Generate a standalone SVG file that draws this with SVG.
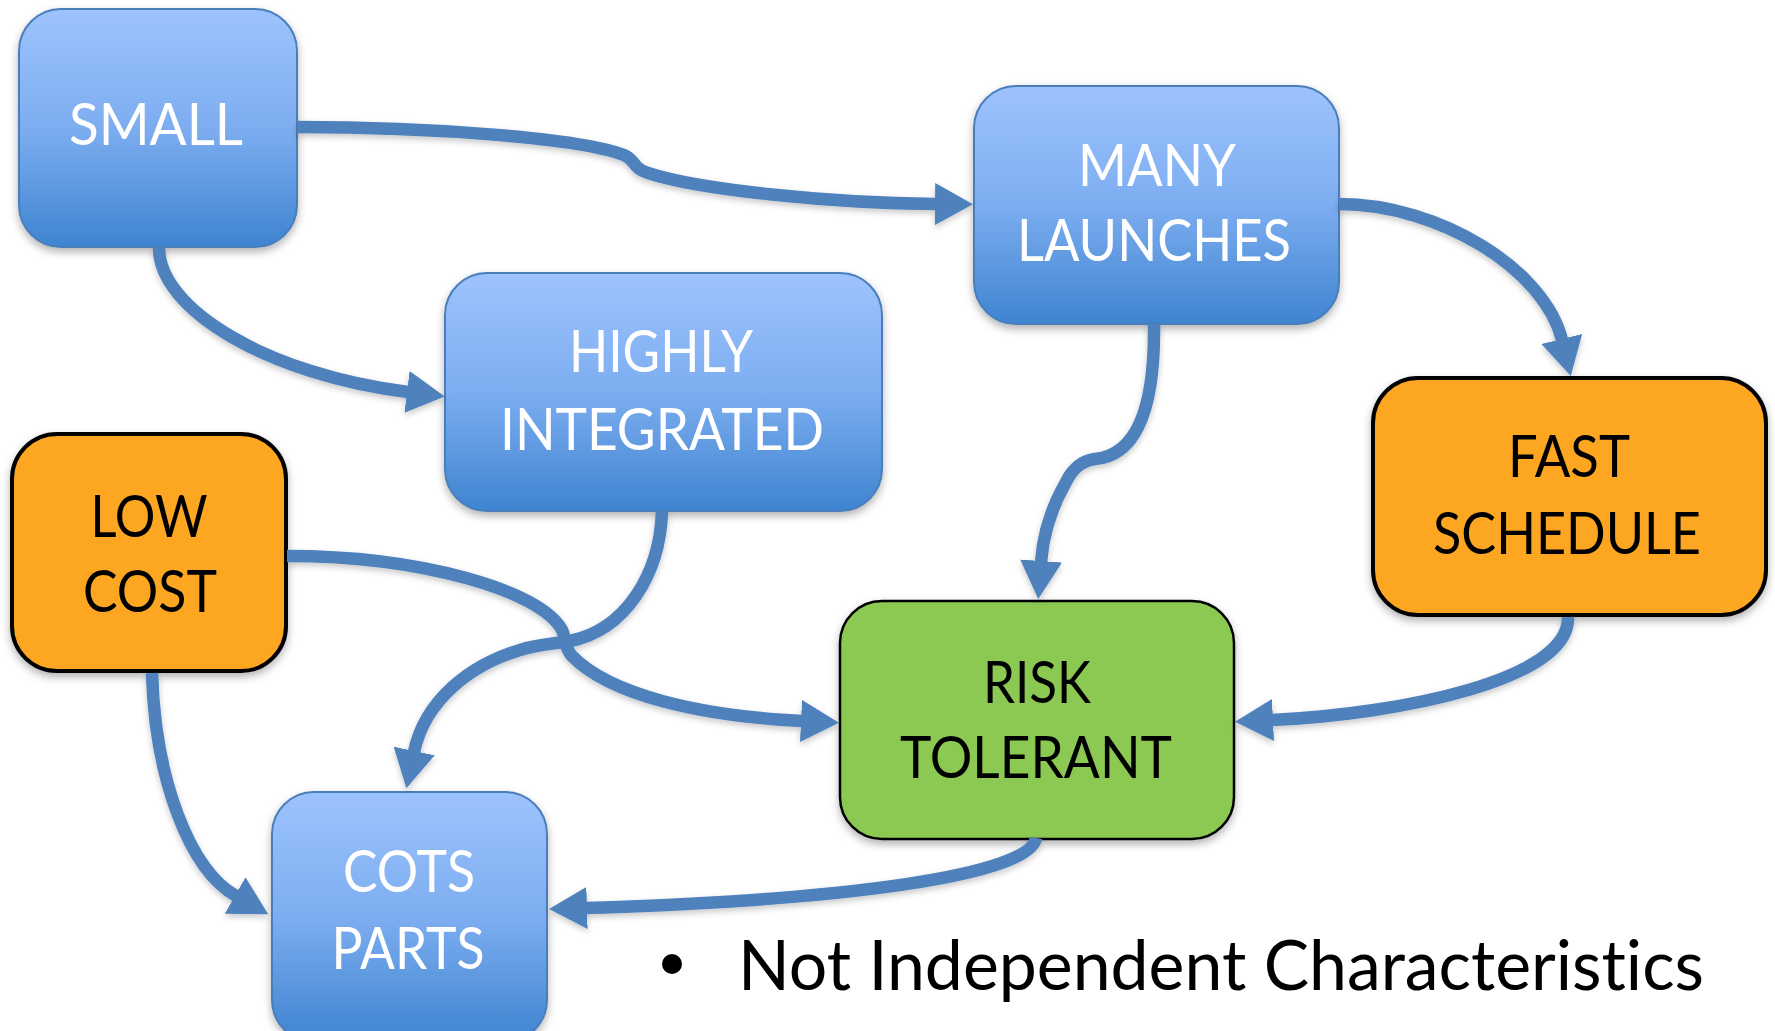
<svg xmlns="http://www.w3.org/2000/svg" width="1775" height="1031" viewBox="0 0 1775 1031">
<defs>
<linearGradient id="blueGrad" x1="0" y1="0" x2="0" y2="1">
<stop offset="0" stop-color="#9DC3FE"/>
<stop offset="0.5" stop-color="#7DADF0"/>
<stop offset="1" stop-color="#3E84D0"/>
</linearGradient>
<filter id="shadow" x="-10%" y="-10%" width="120%" height="130%">
<feDropShadow dx="0" dy="4" stdDeviation="4" flood-color="#000" flood-opacity="0.3"/>
</filter>
<filter id="lshadow" x="-10%" y="-10%" width="120%" height="130%">
<feDropShadow dx="0" dy="3" stdDeviation="3" flood-color="#000" flood-opacity="0.22"/>
</filter>
<marker id="arrow" markerUnits="userSpaceOnUse" markerWidth="38" markerHeight="42" viewBox="0 0 38 42" refX="1" refY="21" orient="auto">
<path d="M0,0 L38,21 L0,42 z" fill="#4F81BD"/>
</marker>
</defs>
<style>
.blue rect{fill:url(#blueGrad);stroke:#4A7EBB;stroke-width:2}
.orange rect{fill:#FDA623;stroke:#000;stroke-width:4}
.green rect{fill:#8BC952;stroke:#000;stroke-width:2.5}
.node{filter:url(#shadow)}
.lbl{font-family:Lato,Carlito,"Liberation Sans",sans-serif;font-size:58px;text-anchor:middle;font-variant-ligatures:none;font-feature-settings:"liga" 0,"clig" 0,"dlig" 0}
.blue text{fill:#fff}
.orange text,.green text{fill:#000}
.conn path{fill:none;stroke:#4F81BD;stroke-width:12.5;marker-end:url(#arrow)}
.note{font-family:Lato,Carlito,"Liberation Sans",sans-serif;font-size:70px;fill:#000;font-variant-ligatures:none;font-feature-settings:"liga" 0,"clig" 0,"dlig" 0}
</style>

<g id="node-small" class="node blue">
<rect x="19" y="9" width="278" height="238" rx="42" ry="42"/>
<text class="lbl" x="156" y="145" textLength="174" lengthAdjust="spacingAndGlyphs">SMALL</text>
</g>
<g id="node-many-launches" class="node blue">
<rect x="974" y="86" width="365" height="238" rx="42" ry="42"/>
<text class="lbl" x="1157" y="186" textLength="158" lengthAdjust="spacingAndGlyphs">MANY</text>
<text class="lbl" x="1154" y="261" textLength="274" lengthAdjust="spacingAndGlyphs">LAUNCHES</text>
</g>
<g id="node-highly-integrated" class="node blue">
<rect x="445" y="273" width="437" height="238" rx="42" ry="42"/>
<text class="lbl" x="661" y="372" textLength="184" lengthAdjust="spacingAndGlyphs">HIGHLY</text>
<text class="lbl" x="662" y="450" textLength="324" lengthAdjust="spacingAndGlyphs">INTEGRATED</text>
</g>
<g id="node-low-cost" class="node orange">
<rect x="12" y="434" width="274" height="237" rx="45" ry="45"/>
<text class="lbl" x="149" y="537" textLength="117" lengthAdjust="spacingAndGlyphs">LOW</text>
<text class="lbl" x="150" y="612" textLength="134" lengthAdjust="spacingAndGlyphs">COST</text>
</g>
<g id="node-fast-schedule" class="node orange">
<rect x="1373" y="378" width="393" height="237" rx="45" ry="45"/>
<text class="lbl" x="1569" y="477" textLength="122" lengthAdjust="spacingAndGlyphs">FAST</text>
<text class="lbl" x="1567" y="554" textLength="268" lengthAdjust="spacingAndGlyphs">SCHEDULE</text>
</g>
<g id="node-risk-tolerant" class="node green">
<rect x="840" y="601" width="394" height="238" rx="42" ry="42"/>
<text class="lbl" x="1037" y="703" textLength="108" lengthAdjust="spacingAndGlyphs">RISK</text>
<text class="lbl" x="1036" y="778" textLength="272" lengthAdjust="spacingAndGlyphs">TOLERANT</text>
</g>
<g id="node-cots-parts" class="node blue">
<rect x="272" y="792" width="275" height="250" rx="42" ry="42"/>
<text class="lbl" x="409" y="892" textLength="132" lengthAdjust="spacingAndGlyphs">COTS</text>
<text class="lbl" x="408" y="969" textLength="153" lengthAdjust="spacingAndGlyphs">PARTS</text>
</g>

<g id="connectors" class="conn" filter="url(#lshadow)">
<path id="e-small-many" d="M297,127 C430,127 580,138 624,155 C636,160 632,168 648,173 C700,190 830,203 936,204"/>
<path id="e-small-hi" d="M159,247 C158,310 270,375 408,392"/>
<path id="e-many-fast" d="M1339,204 C1440,204 1545,270 1562,340"/>
<path id="e-many-risk" d="M1154,324 C1155,400 1140,455 1095,459 C1080,461 1072,470 1066,482 C1050,510 1043,535 1041,562"/>
<path id="e-hi-cots" d="M662,511 C660,575 625,630 570,641 C550,644 535,645 520,650 C470,665 425,700 414,752"/>
<path id="e-low-risk" d="M287,556 C420,556 540,590 562,630 C566,638 564,648 572,656 C610,695 700,716 802,721"/>
<path id="e-low-cots" d="M152,673 C155,780 190,870 236,896"/>
<path id="e-risk-cots" d="M1036,838 C1030,875 850,900 586,908"/>
<path id="e-fast-risk" d="M1568,617 C1570,680 1400,714 1272,720"/>
</g>

<g id="note">
<circle cx="672" cy="964" r="10" fill="#000"/>
<text class="note" x="738" y="990" textLength="966" lengthAdjust="spacingAndGlyphs">Not Independent Characteristics</text>
</g>
</svg>
